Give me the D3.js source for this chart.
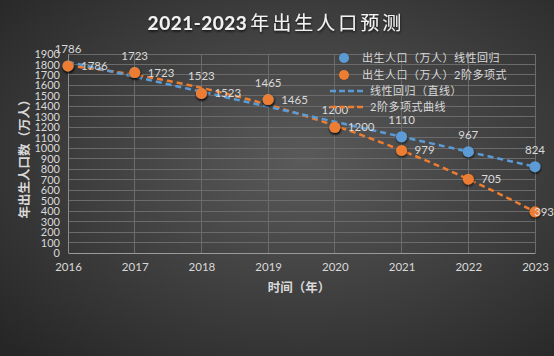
<!DOCTYPE html>
<html><head><meta charset="utf-8">
<script src="https://cdn.jsdelivr.net/npm/d3@7/dist/d3.min.js"></script>
<style>
html,body{margin:0;padding:0;background:#333;}
svg{display:block;}
text{font-family:Lato,"Noto Sans CJK SC",sans-serif;}
</style></head>
<body>
<script>
const years = [2016, 2017, 2018, 2019, 2020, 2021, 2022, 2023];
const linearValues = [1786, 1723, 1523, 1465, 1200, 1110, 967, 824];
const polyValues = [1786, 1723, 1523, 1465, 1200, 979, 705, 393];
const yTicks = d3.range(0, 2000, 100);
const titleParts = ["2021-2023", "年出生人口预测"];
const xTitle = "时间（年）";
const yTitle = "年出生人口数（万人）";
const legendLabels = ["出生人口（万人）线性回归", "出生人口（万人）2阶多项式", "线性回归（直线）", "2阶多项式曲线"];

const W = 554, H = 356;
const blue = "#5B9BD5", orange = "#ED7D31";
const textCol = "#d9d9d9";

const svg = d3.select("body").append("svg").attr("width", W).attr("height", H);
const defs = svg.append("defs");
const rg = defs.append("radialGradient").attr("id", "bg").attr("cx", "55%").attr("cy", "45%").attr("r", "75%");
rg.append("stop").attr("offset", "0%").attr("stop-color", "#5a5a5a");
rg.append("stop").attr("offset", "100%").attr("stop-color", "#262626");
const f = defs.append("filter").attr("id", "sh").attr("x", "-50%").attr("y", "-50%").attr("width", "200%").attr("height", "200%");
f.append("feDropShadow").attr("dx", 0.5).attr("dy", 1.5).attr("stdDeviation", 1.2).attr("flood-color", "#000").attr("flood-opacity", 0.7);

svg.append("rect").attr("width", W).attr("height", H).attr("fill", "url(#bg)");

const x = d3.scaleLinear().domain([2016, 2023]).range([68, 535]);
const y = d3.scaleLinear().domain([0, 1900]).range([253, 54]);

// gridlines
const grid = svg.append("g");
grid.selectAll("line.h").data(yTicks.filter(d => d > 0)).join("line")
  .attr("x1", x(2016)).attr("x2", x(2023)).attr("y1", d => y(d)).attr("y2", d => y(d))
  .attr("stroke", "#6b6b6b").attr("stroke-width", 1).attr("shape-rendering", "crispEdges");
grid.selectAll("line.v").data(years).join("line")
  .attr("x1", d => x(d)).attr("x2", d => x(d)).attr("y1", y(1900)).attr("y2", y(0))
  .attr("stroke", d => d === 2016 ? "#8c8c8c" : "#6b6b6b").attr("stroke-width", 1).attr("shape-rendering", "crispEdges");

// axes
const yAxis = d3.axisLeft(y).tickValues(yTicks).tickFormat(d3.format("d")).tickSize(0).tickPadding(8);
const ga = svg.append("g").attr("transform", `translate(${x(2016)},0)`).call(yAxis);
ga.select(".domain").remove();
ga.selectAll("text").attr("fill", textCol).attr("font-size", 11);

const xAxis = d3.axisBottom(x).tickValues(years).tickFormat(d3.format("d")).tickSize(0).tickPadding(10);
const gx = svg.append("g").attr("transform", `translate(0,${y(0)})`).call(xAxis);
gx.select(".domain").attr("stroke", "#9a9a9a");
gx.selectAll("text").attr("fill", textCol).attr("font-size", 11.5);

// title
const tt = svg.append("text").attr("x", 276).attr("y", 30).attr("text-anchor", "middle")
  .attr("fill", "#f2f2f2").attr("font-size", 19).attr("font-weight", "bold").attr("filter", "url(#sh)");
tt.append("tspan").attr("letter-spacing", 0.5).text(titleParts[0]);
tt.append("tspan").attr("letter-spacing", 3).attr("font-weight", "normal").attr("dx", 3).text(titleParts[1]);

// axis titles
svg.append("text").attr("x", 299).attr("y", 292).attr("text-anchor", "middle")
  .attr("fill", textCol).attr("font-size", 12.5).attr("font-weight", "bold").text(xTitle);
svg.append("text").attr("transform", "translate(29,156) rotate(-90)").attr("text-anchor", "middle")
  .attr("fill", textCol).attr("font-size", 12.5).attr("font-weight", "bold").text(yTitle);

// regressions
const xs = years.map(d => d - 2016);
function linFit(xv, yv) {
  const mx = d3.mean(xv), my = d3.mean(yv);
  let sxy = 0, sxx = 0;
  xv.forEach((xi, i) => { sxy += (xi - mx) * (yv[i] - my); sxx += (xi - mx) ** 2; });
  const b = sxy / sxx; return t => my + b * (t - mx);
}
function polyFit2(xv, yv) {
  let S = [0,0,0,0,0], T = [0,0,0];
  xv.forEach((xi, i) => { for (let k = 0; k < 5; k++) S[k] += xi ** k; for (let k = 0; k < 3; k++) T[k] += yv[i] * xi ** k; });
  const A = [[S[0],S[1],S[2],T[0]],[S[1],S[2],S[3],T[1]],[S[2],S[3],S[4],T[2]]];
  for (let i = 0; i < 3; i++) {
    for (let j = i + 1; j < 3; j++) { const r = A[j][i] / A[i][i]; for (let k = i; k < 4; k++) A[j][k] -= r * A[i][k]; }
  }
  const c = [0,0,0];
  for (let i = 2; i >= 0; i--) { let s = A[i][3]; for (let k = i + 1; k < 3; k++) s -= A[i][k] * c[k]; c[i] = s / A[i][i]; }
  return t => c[0] + c[1] * t + c[2] * t * t;
}
const lf = linFit(xs, linearValues);
const pf = polyFit2(xs, polyValues);
const ts = d3.range(0, 7.001, 0.1);
const line = d3.line().x(d => x(2016 + d[0])).y(d => y(d[1]));

svg.append("path").attr("d", line(ts.map(t => [t, pf(t)]))).attr("fill", "none")
  .attr("stroke", orange).attr("stroke-width", 2.5).attr("stroke-dasharray", "6,4");
svg.append("path").attr("d", line(ts.map(t => [t, lf(t)]))).attr("fill", "none")
  .attr("stroke", blue).attr("stroke-width", 2.5).attr("stroke-dasharray", "6,4");

// markers
svg.append("g").selectAll("circle").data(years).join("circle")
  .attr("cx", d => x(d)).attr("cy", (d, i) => y(linearValues[i])).attr("r", 5.5)
  .attr("fill", blue).attr("filter", "url(#sh)");
svg.append("g").selectAll("circle").data(years).join("circle")
  .attr("cx", d => x(d)).attr("cy", (d, i) => y(polyValues[i])).attr("r", 5.5)
  .attr("fill", orange).attr("filter", "url(#sh)");

// labels
svg.append("g").selectAll("text").data(years).join("text")
  .attr("x", d => x(d)).attr("y", (d, i) => y(linearValues[i]) - 13).attr("text-anchor", "middle")
  .attr("fill", textCol).attr("font-size", 11.5).text((d, i) => linearValues[i]);
svg.append("g").selectAll("text").data(years).join("text")
  .attr("x", d => Math.min(x(d) + 13, W - 20))
  .attr("y", (d, i) => y(polyValues[i]) + 4)
  .attr("fill", textCol).attr("font-size", 11.5).text((d, i) => polyValues[i]);

// legend
const lg = svg.append("g");
lg.append("circle").attr("cx", 344).attr("cy", 58).attr("r", 5).attr("fill", blue);
lg.append("circle").attr("cx", 344).attr("cy", 75).attr("r", 5).attr("fill", orange);
lg.append("line").attr("x1", 330).attr("x2", 366).attr("y1", 91).attr("y2", 91)
  .attr("stroke", blue).attr("stroke-width", 2.5).attr("stroke-dasharray", "6,3");
lg.append("line").attr("x1", 330).attr("x2", 366).attr("y1", 107).attr("y2", 107)
  .attr("stroke", orange).attr("stroke-width", 2.5).attr("stroke-dasharray", "6,3");
const lpos = [[362, 62], [362, 79], [370, 95], [370, 111]];
legendLabels.forEach((t, i) => {
  lg.append("text").attr("x", lpos[i][0]).attr("y", lpos[i][1]).attr("fill", textCol)
    .attr("font-size", 11).attr("letter-spacing", 0.5).text(t);
});
</script>
</body></html>
